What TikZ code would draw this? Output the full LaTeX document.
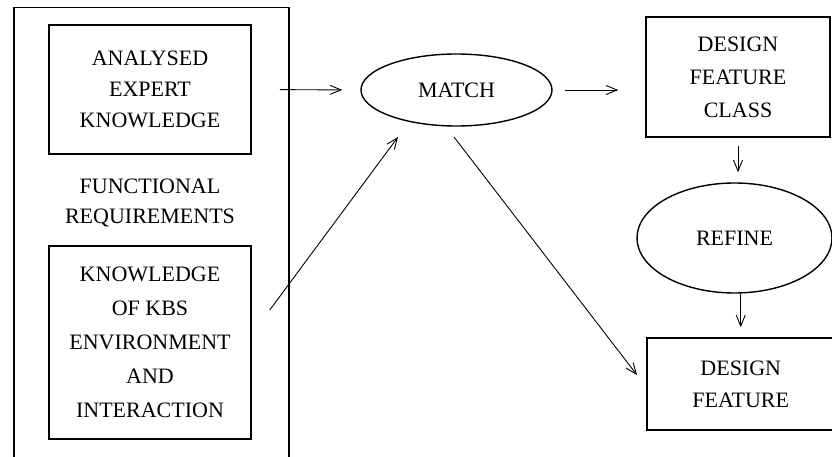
\documentclass[tikz,border=0pt]{standalone}
\usepackage{fontspec}
\setmainfont{Liberation Serif}
\usetikzlibrary{arrows.meta,shapes.geometric}

\tikzset{
  box/.style={draw, line width=1.5pt, rectangle, inner sep=0pt, align=center},
  oval/.style={draw, line width=1.4pt, ellipse, inner sep=0pt, align=center},
  lbl/.style={align=center, inner sep=0pt},
  arr/.style={line width=0.9pt, -{Straight Barb[length=11pt,width=9pt,line width=0.9pt]}},
  txt/.style={font=\fontsize{22}{#1}\selectfont},
}

\begin{document}
\begin{tikzpicture}[x=1pt, y=-1pt]
  \useasboundingbox (0,0) rectangle (832,457);

  % enclosing frame, open at the bottom edge
  \node[draw, line width=1.5pt, minimum width=275pt, minimum height=470pt,
        anchor=north west, inner sep=0pt] (frame) at (13,7) {};

  \node[box, txt=31pt, minimum width=202pt, minimum height=129pt] (expert) at (150,89.5)
    {ANALYSED\\EXPERT\\KNOWLEDGE};
  \node[lbl, txt=30pt] (func) at (150,203) {FUNCTIONAL\\REQUIREMENTS};
  \node[box, txt=34pt, minimum width=202pt, minimum height=193pt] (kbs) at (150,342.5)
    {KNOWLEDGE\\OF KBS\\ENVIRONMENT\\AND\\INTERACTION};

  \node[oval, txt=26pt, minimum width=191pt, minimum height=72pt] (match) at (456.5,90) {MATCH};

  \node[box, txt=33pt, minimum width=184pt, minimum height=120pt] (dfc) at (738,77)
    {DESIGN\\FEATURE\\CLASS};
  \node[oval, txt=26pt, minimum width=195pt, minimum height=110pt] (refine) at (734.5,238) {REFINE};
  \node[box, txt=32pt, minimum width=188pt, minimum height=92pt, anchor=west] (df) at (646,384)
    {DESIGN\\FEATURE};

  % connectors
  \draw[arr, shorten <=28pt, shorten >=18pt] (expert.east) -- (match.west);
  \draw[arr, shorten <=12pt, shorten >=27pt] (match.east) -- (dfc.west |- match.east);
  \draw[arr, shorten <=8pt, shorten >=10pt] (dfc.south) -- (dfc.south |- refine.north);
  \draw[arr, shorten >=10pt] (refine.south -| df.north) -- (df.north);
  \draw[arr] ([shift={(18,-32.5)}]kbs.east) -- ([shift={(-58.5,47)}]match.center);
  \draw[arr] ([shift={(-2.5,47)}]match.center) -- ([shift={(-9,-9)}]df.west);
\end{tikzpicture}
\end{document}
